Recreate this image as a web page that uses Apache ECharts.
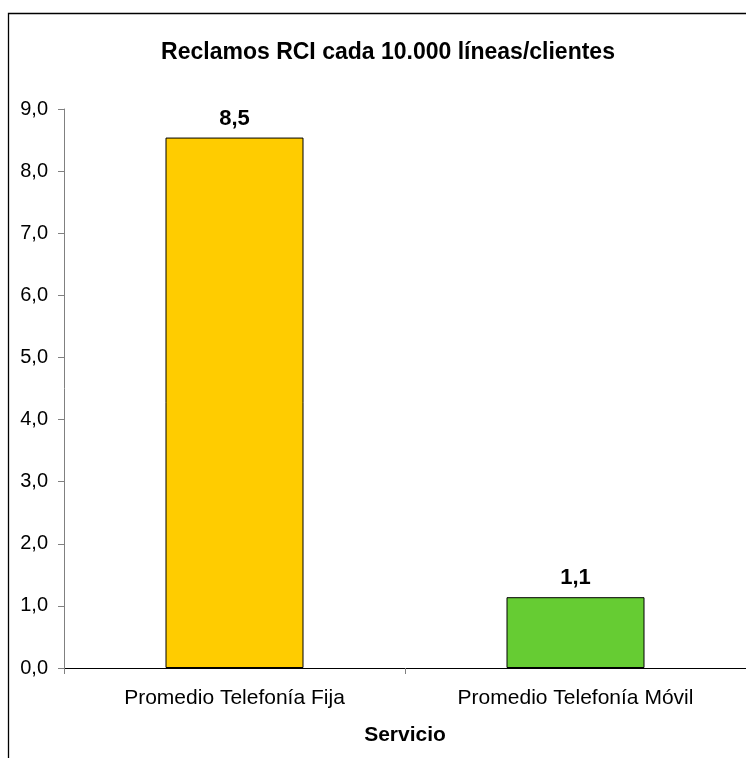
<!DOCTYPE html>
<html>
<head>
<meta charset="utf-8">
<script src="https://cdn.jsdelivr.net/npm/echarts@6/dist/echarts.min.js"></script>
<style>
  html, body { margin: 0; padding: 0; background: #fff; }
  #chart { width: 746px; height: 758px; }
</style>
</head>
<body>
<div id="chart"></div>
<script>
// Servicio categories and complaints per 10,000 lines/clients
const categories = ['Promedio Telefonía Fija', 'Promedio Telefonía Móvil'];
const reclamos = [8.54, 1.14];
const barColors = ['#FFCC00', '#66CC33'];
const yTicks = [0, 1, 2, 3, 4, 5, 6, 7, 8, 9];

const FONT = '"Liberation Sans", Arial, sans-serif';
const fmt = v => v.toFixed(1).replace('.', ',');

const chart = echarts.init(document.getElementById('chart'), null, { renderer: 'canvas' });

chart.setOption({
  animation: false,
  backgroundColor: '#ffffff',
  title: {
    text: 'Reclamos RCI cada 10.000 líneas/clientes',
    left: 383,
    top: 36,
    textAlign: 'center',
    textStyle: { fontFamily: FONT, fontWeight: 'bold', fontSize: 23, color: '#000' }
  },
  // outer chart frame (only top and left edges fall inside the canvas)
  graphic: [{
    type: 'rect',
    shape: { x: 8.5, y: 13.5, width: 900, height: 900 },
    style: { fill: 'none', stroke: '#000', lineWidth: 1.3 },
    silent: true,
    z: -1
  }],
  grid: { left: 64, top: 109, width: 687, height: 559, containLabel: false },
  xAxis: {
    type: 'category',
    data: categories,
    name: 'Servicio',
    nameLocation: 'middle',
    nameGap: 57,
    nameTextStyle: { fontFamily: FONT, fontWeight: 'bold', fontSize: 21, color: '#000' },
    axisLine: { lineStyle: { color: '#000', width: 1 } },
    axisTick: { show: true, length: 6, lineStyle: { color: '#808080' } },
    axisLabel: { fontFamily: FONT, fontSize: 21, color: '#000', margin: 20 },
    splitLine: { show: false }
  },
  yAxis: {
    type: 'value',
    min: yTicks[0],
    max: yTicks[yTicks.length - 1],
    interval: 1,
    axisLine: { show: true, lineStyle: { color: '#808080', width: 1 } },
    axisTick: { show: true, length: 6, lineStyle: { color: '#808080' } },
    axisLabel: { fontFamily: FONT, fontSize: 20, color: '#000', margin: 16, formatter: v => fmt(v) },
    splitLine: { show: false }
  },
  series: [{
    type: 'bar',
    data: reclamos.map((v, i) => ({ value: v, itemStyle: { color: barColors[i] } })),
    barWidth: 138,
    itemStyle: { borderColor: '#000', borderWidth: 1 },
    label: {
      show: true,
      position: 'top',
      distance: 8,
      fontFamily: FONT,
      fontWeight: 'bold',
      fontSize: 22,
      color: '#000',
      formatter: p => fmt(p.value)
    }
  }]
});
</script>
</body>
</html>
